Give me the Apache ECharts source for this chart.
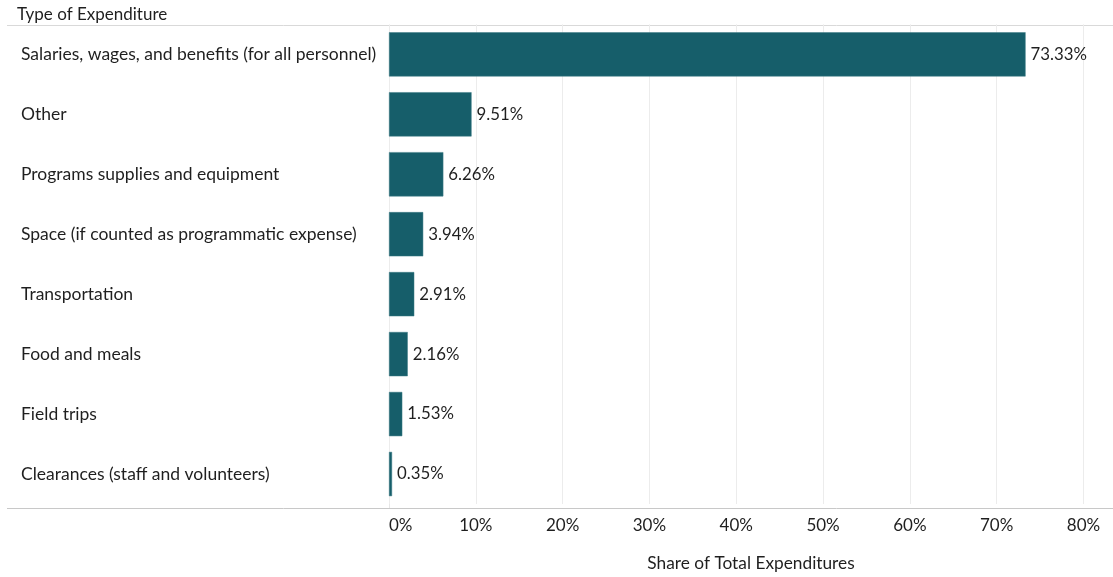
<!DOCTYPE html>
<html>
<head>
<meta charset="utf-8">
<script src="https://cdn.jsdelivr.net/npm/echarts@6/dist/echarts.min.js"></script>
<style>
  html, body { margin: 0; padding: 0; background: #fff; }
  #chart { width: 1113px; height: 577px; }
</style>
</head>
<body>
<div id="chart"></div>
<script>
// Expenditure categories, top to bottom
const categories = [
  'Salaries, wages, and benefits (for all personnel)',
  'Other',
  'Programs supplies and equipment',
  'Space (if counted as programmatic expense)',
  'Transportation',
  'Food and meals',
  'Field trips',
  'Clearances (staff and volunteers)'
];
// Share of total expenditures, in percent
const shares = [73.33, 9.51, 6.26, 3.94, 2.91, 2.16, 1.53, 0.35];
// Axis tick values (percent)
const tickValues = [0, 10, 20, 30, 40, 50, 60, 70, 80];

const FONT = 'Lato, "Open Sans", sans-serif';
const TEXT = '#1f1f1f';
const chart = echarts.init(document.getElementById('chart'), null, { renderer: 'canvas' });

chart.setOption({
  animation: false,
  backgroundColor: '#ffffff',
  textStyle: { fontFamily: FONT },
  grid: { left: 389, right: 0, top: 24.4, bottom: 68.3, containLabel: false },
  xAxis: {
    type: 'value',
    min: 0,
    max: 83.4,
    interval: 10,
    name: 'Share of Total Expenditures',
    nameLocation: 'middle',
    nameGap: 51,
    nameTextStyle: { color: TEXT, fontSize: 17.3, fontFamily: FONT },
    axisLine: { show: false },
    axisTick: { show: false },
    axisLabel: {
      color: TEXT,
      fontSize: 17,
      fontFamily: FONT,
      margin: 13,
      showMaxLabel: false,
      alignMinLabel: 'left',
      formatter: v => (tickValues.indexOf(v) >= 0 ? v + '%' : '')
    },
    splitLine: { show: true, showMaxLine: false, lineStyle: { color: '#ececec', width: 1 } }
  },
  yAxis: {
    type: 'category',
    inverse: true,
    data: categories,
    axisLine: { show: false },
    axisTick: { show: false },
    splitLine: { show: false },
    axisLabel: {
      color: TEXT,
      fontSize: 17.5,
      fontFamily: FONT,
      align: 'left',
      margin: 368
    }
  },
  series: [{
    type: 'bar',
    data: shares,
    barWidth: '73.8%',
    itemStyle: { color: '#165e6a', borderColor: '#3f7c86', borderWidth: 0.5 },
    label: {
      show: true,
      position: 'right',
      distance: 5,
      color: TEXT,
      fontSize: 16.8,
      fontFamily: FONT,
      formatter: p => p.value.toFixed(2) + '%'
    }
  }],
  graphic: [
    { type: 'text', left: 17, top: 6, style: { text: 'Type of Expenditure', fill: TEXT, font: '17px ' + FONT } },
    { type: 'line', shape: { x1: 7, y1: 25.5, x2: 1113, y2: 25.5 }, style: { stroke: '#d9d9d9', lineWidth: 1 } },
    { type: 'line', shape: { x1: 389.5, y1: 25, x2: 389.5, y2: 508 }, style: { stroke: '#e6e6e6', lineWidth: 1 } },
    { type: 'line', shape: { x1: 7, y1: 508.5, x2: 1113, y2: 508.5 }, style: { stroke: '#c8c8c8', lineWidth: 1 } }
  ]
});
</script>
</body>
</html>
